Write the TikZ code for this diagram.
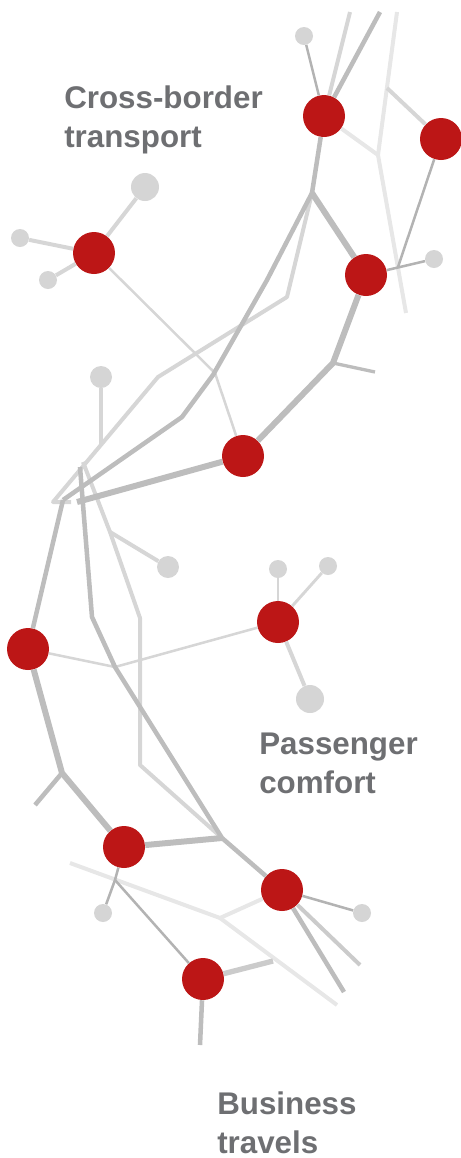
\documentclass[tikz,border=0pt]{standalone}
\usepackage{fontspec}
\setmainfont{Liberation Sans}
\definecolor{hubred}{HTML}{BC1616}
\definecolor{leafgray}{HTML}{D5D5D5}
\definecolor{trackmid}{HTML}{BDBDBD}
\definecolor{trackdark}{HTML}{B3B3B3}
\definecolor{tracksoft}{HTML}{CBCBCB}
\definecolor{tracklight}{HTML}{D6D6D6}
\definecolor{trackpale}{HTML}{E7E7E7}
\definecolor{labelgray}{HTML}{6E6F72}
\tikzset{
  hub/.style={circle,fill=hubred,inner sep=0pt,minimum size=31.5pt},
  leaf/.style={circle,fill=leafgray,inner sep=0pt,minimum size=#1},
  leaf/.default=13.5pt,
  trunk/.style={line width=4.5pt,draw=trackmid},
  branch/.style={line width=3.4pt,draw=trackmid},
  twig/.style={line width=1.9pt,draw=trackdark},
  ghost/.style={line width=3pt,draw=tracklight},
  haze/.style={line width=3pt,draw=trackpale},
  tagtext/.style={font=\bfseries\fontsize{23.5}{29}\selectfont,text=labelgray,
    align=left,inner sep=0pt,anchor=north west}
}
\begin{document}
\begin{tikzpicture}[x=0.75pt,y=-0.75pt,line join=round]
  \useasboundingbox (0,0) rectangle (461,1158);
  \draw
    (324,116) node[hub] (A){}
    (441,139) node[hub] (B){}
    (94,253) node[hub] (C){}
    (366,275) node[hub] (D){}
    (243,456) node[hub] (E){}
    (28,649) node[hub] (F){}
    (278,622) node[hub] (G){}
    (124,847) node[hub] (H){}
    (282,890) node[hub] (I){}
    (203,979) node[hub] (J){};
  \draw
    (304,36) node[leaf] (l1){}
    (145,187) node[leaf=21pt] (l2){}
    (20,238) node[leaf] (l3){}
    (48,280) node[leaf] (l4){}
    (434,259) node[leaf] (l5){}
    (101,377) node[leaf=16.5pt] (l6){}
    (168,567) node[leaf=16.5pt] (l7){}
    (278,569) node[leaf] (l8){}
    (328,566) node[leaf] (l9){}
    (310,699) node[leaf=21pt] (l10){}
    (103,913) node[leaf] (l11){}
    (362,913) node[leaf] (l12){};
  \path
    (350,12) coordinate (t1)
    (380,12) coordinate (t2)
    (397,12) coordinate (t3)
    (387,88) coordinate (v3)
    (378,155) coordinate (v1)
    (406,313) coordinate (v2)
    (398,267) coordinate (k1)
    (312,193) coordinate (j1)
    (287,297) coordinate (p1)
    (158,377) coordinate (p2)
    (53,502) coordinate (p3)
    (71,502) coordinate (p4)
    (267,280) coordinate (m1)
    (213,375) coordinate (m2)
    (182,417) coordinate (m3)
    (63,500) coordinate (m4)
    (333,363) coordinate (d1)
    (375,372) coordinate (d2)
    (77,502) coordinate (e1)
    (215,373) coordinate (c1)
    (101,445) coordinate (s1)
    (80,467) coordinate (q1)
    (92,617) coordinate (q2)
    (115,667) coordinate (q3)
    (83,462) coordinate (r1)
    (110,532) coordinate (r2)
    (140,618) coordinate (r3)
    (140,765) coordinate (r4)
    (222,838) coordinate (h1)
    (62,773) coordinate (g1)
    (35,805) coordinate (g2)
    (70,863) coordinate (w1)
    (220,918) coordinate (w2)
    (337,1005) coordinate (w3)
    (115,880) coordinate (k2)
    (273,961) coordinate (j2)
    (200,1045) coordinate (j3)
    (344,992) coordinate (i1)
    (360,965) coordinate (i2);
  \begin{scope}[haze]
    \draw (t3) -- (v1) -- (v2);
    \draw (A) to (v1);
    \draw (w1) -- (w2) -- (w3);
    \draw (w2) to (I);
  \end{scope}
  \begin{scope}[ghost]
    \draw (t1) to (A);
    \draw (j1) -- (p1) -- (p2) -- (p3) -- (p4);
    \draw (r1) -- (r2) -- (r3) -- (r4) -- (h1);
    \draw (r2) to (l7);
    \draw (v3) to (B);
    \draw (l6) to (s1);
    \draw (C) to (l2);
    \draw (C) to (l3);
    \draw (C) to (l4);
    \draw (G) to (l10);
    \draw[line width=2.2pt] (G) to (l8);
    \draw[line width=2.2pt] (G) to (l9);
    \draw[line width=1.9pt] (C) -- (c1) -- (E);
    \draw[line width=1.9pt] (F) -- (q3) -- (G);
  \end{scope}
  \begin{scope}[draw=tracksoft]
    \draw[line width=4pt,tracksoft] (J) to (j2);
    \draw[line width=3pt,tracksoft] (I) to (i2);
  \end{scope}
  \begin{scope}[branch]
    \draw (t2) to (A);
    \draw (A) to (j1);
    \draw (j1) -- (m1) -- (m2) -- (m3) -- (m4);
    \draw (m4) to (F);
    \draw (q1) -- (q2) -- (q3) -- (h1) -- (I);
    \draw (g1) to (g2);
    \draw (J) to (j3);
    \draw (I) to (i1);
    \draw[line width=2.5pt] (d1) to (d2);
  \end{scope}
  \begin{scope}[trunk]
    \draw (j1) -- (D) -- (d1) -- (E) -- (e1);
    \draw (F) -- (g1) -- (H) -- (h1);
  \end{scope}
  \begin{scope}[twig]
    \draw (l1) to (A);
    \draw (B) to (k1);
    \draw (D) to (l5);
    \draw (H) -- (k2) -- (l11);
    \draw (k2) to (J);
    \draw (I) to (l12);
  \end{scope}
  \node[tagtext] (crossborder) at (64,86) {Cross-border\\transport};
  \node[tagtext] (comfort) at (259,733) {Passenger\\comfort};
  \node[tagtext] (business) at (217,1092) {Business\\travels};
\end{tikzpicture}
\end{document}
